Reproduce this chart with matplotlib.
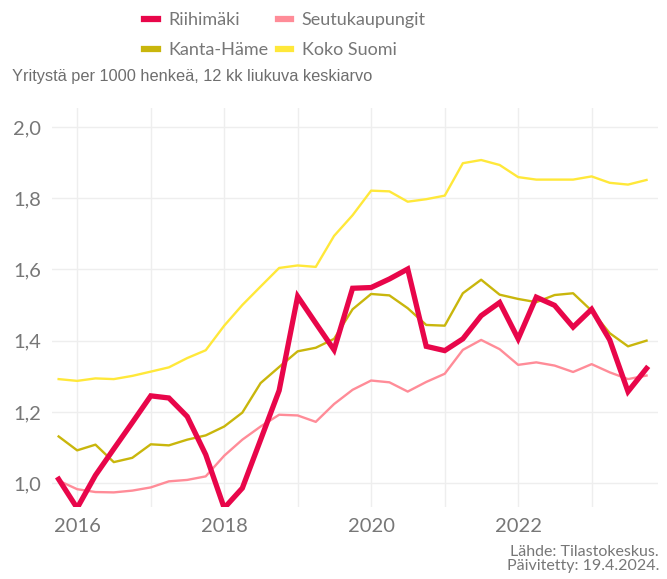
import matplotlib
matplotlib.use("Agg")
import matplotlib.pyplot as plt
import matplotlib.dates as mdates
from matplotlib.lines import Line2D
import pandas as pd

# quarterly points, 12 month moving average, firms per 1000 people
dates = pd.date_range("2015-10-01", periods=33, freq="QS")

riihimaki = [1.011, 0.930, 1.022, 1.096, 1.170, 1.245, 1.239, 1.187, 1.080, 0.930,
             0.986, 1.122, 1.260, 1.524, 1.449, 1.374, 1.547, 1.549, 1.573, 1.601,
             1.384, 1.372, 1.405, 1.470, 1.507, 1.405, 1.522, 1.499, 1.438, 1.488,
             1.402, 1.257, 1.322]
seutukaupungit = [1.007, 0.983, 0.975, 0.974, 0.979, 0.988, 1.005, 1.009, 1.019, 1.077,
                  1.122, 1.159, 1.192, 1.190, 1.172, 1.222, 1.262, 1.288, 1.283, 1.257,
                  1.284, 1.307, 1.374, 1.402, 1.376, 1.332, 1.339, 1.330, 1.312, 1.334,
                  1.311, 1.292, 1.302]
kanta_hame = [1.131, 1.092, 1.108, 1.059, 1.071, 1.109, 1.106, 1.122, 1.134, 1.159,
              1.198, 1.281, 1.326, 1.370, 1.380, 1.405, 1.488, 1.531, 1.527, 1.491,
              1.444, 1.442, 1.533, 1.571, 1.529, 1.517, 1.508, 1.528, 1.533, 1.484,
              1.421, 1.384, 1.400]
koko_suomi = [1.292, 1.287, 1.294, 1.292, 1.301, 1.313, 1.325, 1.351, 1.373, 1.442,
              1.500, 1.552, 1.604, 1.611, 1.607, 1.694, 1.752, 1.821, 1.819, 1.790,
              1.797, 1.807, 1.898, 1.907, 1.893, 1.859, 1.852, 1.852, 1.852, 1.861,
              1.843, 1.838, 1.851]

yticks = [1.0, 1.2, 1.4, 1.6, 1.8, 2.0]
ytick_labels = ["1,0", "1,2", "1,4", "1,6", "1,8", "2,0"]

c_riihi = "#E8064A"
c_seutu = "#FF8C98"
c_kanta = "#C9B60C"
c_koko = "#FFE83A"
txt_grey = "#777777"

fig = plt.figure(figsize=(6.67, 5.79), dpi=100)
ax = fig.add_axes([52/667, 1 - 507/579, 606/667, 399/579])

ax.plot(dates, seutukaupungit, color=c_seutu, lw=1.7)
ax.plot(dates, kanta_hame, color=c_kanta, lw=1.7)
ax.plot(dates, koko_suomi, color=c_koko, lw=1.7)
ax.plot(dates, riihimaki, color=c_riihi, lw=3.8, solid_joinstyle="miter")

ax.set_ylim(0.933, 2.053)
ax.set_xlim(pd.Timestamp("2015-08-29"), pd.Timestamp("2023-11-27"))
ax.set_yticks(yticks)
ax.set_yticklabels(ytick_labels)
ax.xaxis.set_major_locator(mdates.YearLocator(2))
ax.xaxis.set_minor_locator(mdates.YearLocator(1))
ax.xaxis.set_major_formatter(mdates.DateFormatter("%Y"))

ax.grid(True, which="both", color="#EEEEEE", lw=1.0)
ax.set_axisbelow(True)
for s in ax.spines.values():
    s.set_visible(False)
ax.tick_params(which="both", length=0, labelsize=14.5, labelcolor=txt_grey)
ax.tick_params(axis="y", pad=8)
ax.tick_params(axis="x", pad=8)
for lab in ax.get_xticklabels() + ax.get_yticklabels():
    lab.set_fontfamily("Lato")

handles = [Line2D([], [], color=c_riihi, lw=4.5),
           Line2D([], [], color=c_kanta, lw=4.5),
           Line2D([], [], color=c_seutu, lw=4.5),
           Line2D([], [], color=c_koko, lw=4.5)]
labels = ["Riihimäki", "Kanta-Häme", "Seutukaupungit", "Koko Suomi"]
leg = fig.legend(handles, labels, ncol=2, frameon=False, loc="upper left",
                 bbox_to_anchor=(144/667, 1 - 12/579), borderpad=0, borderaxespad=0,
                 handlelength=0.75, handletextpad=0.6, columnspacing=0.5,
                 labelspacing=0.8, prop={"family": "Lato", "size": 13})
for t in leg.get_texts():
    t.set_color(txt_grey)

fig.text(12/667, 1 - 76/579, "Yritystä per 1000 henkeä, 12 kk liukuva keskiarvo",
         fontsize=11.8, family="Liberation Sans", color="#6E6E6E", va="center")

fig.text(659/667, 1 - 559/579, "Lähde: Tilastokeskus.\nPäivitetty: 19.4.2024.",
         fontsize=11.5, family="Lato", color=txt_grey, ha="right", va="center",
         linespacing=1.05)

fig.savefig("out.png", dpi=100, facecolor="white")
